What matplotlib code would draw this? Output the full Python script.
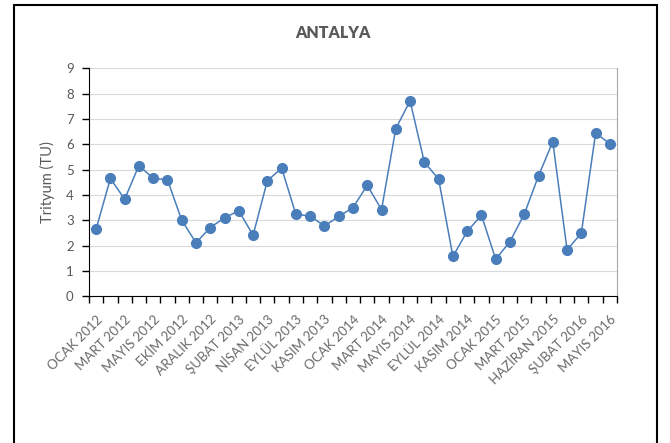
import matplotlib.pyplot as plt
from matplotlib.patches import Rectangle

plt.rcParams['font.family'] = ['Lato', 'DejaVu Sans']

# categories (only every other one is labelled on the chart)
months = ['OCAK 2012', 'ŞUBAT 2012', 'MART 2012', 'NİSAN 2012', 'MAYIS 2012', 'HAZİRAN 2012',
          'EKİM 2012', 'KASIM 2012', 'ARALIK 2012', 'OCAK 2013', 'ŞUBAT 2013', 'MART 2013',
          'NİSAN 2013', 'MAYIS 2013', 'EYLÜL 2013', 'EKİM 2013', 'KASIM 2013', 'ARALIK 2013',
          'OCAK 2014', 'ŞUBAT 2014', 'MART 2014', 'NİSAN 2014', 'MAYIS 2014', 'HAZİRAN 2014',
          'EYLÜL 2014', 'EKİM 2014', 'KASIM 2014', 'ARALIK 2014', 'OCAK 2015', 'ŞUBAT 2015',
          'MART 2015', 'NİSAN 2015', 'HAZİRAN 2015', 'ARALIK 2015', 'ŞUBAT 2016', 'NİSAN 2016',
          'MAYIS 2016']
tritium = [2.66, 4.66, 3.84, 5.17, 4.66, 4.61, 3.01, 2.12, 2.72, 3.11, 3.38, 2.42,
           4.57, 5.07, 3.24, 3.18, 2.78, 3.16, 3.51, 4.39, 3.43, 6.63, 7.72, 5.30,
           4.64, 1.58, 2.57, 3.21, 1.47, 2.17, 3.25, 4.76, 6.11, 1.84, 2.50, 6.45, 6.03]

gray = '#595959'
blue = '#4A7EBB'

fig = plt.figure(figsize=(6.7, 4.43), dpi=100)
ax = fig.add_axes([0.1328, 0.3307, 0.7881, 0.5147])

x = list(range(len(tritium)))
ax.plot(x, tritium, color=blue, linewidth=1.1, marker='o', markersize=7, zorder=3)

ax.set_xlim(-0.5, len(tritium) - 0.5)
ax.set_ylim(0, 9)
ax.set_yticks(range(0, 10))
ax.grid(axis='y', color='#d9d9d9', linewidth=0.8)
ax.set_axisbelow(True)

# Excel-style ticks between categories, labels on every second category
ax.set_xticks([i - 0.5 for i in range(len(tritium) + 1)])
ax.set_xticklabels([])
ax.tick_params(axis='x', which='major', length=5, width=1, color='black', direction='out')
ax.set_xticks(x[::2], minor=True)
ax.set_xticklabels(months[::2], minor=True, rotation=45, ha='right',
                   rotation_mode='anchor', color='#6a6a6a', fontsize=9.5)
ax.tick_params(axis='x', which='minor', length=0, pad=12)
ax.tick_params(axis='y', length=5, width=1, color='black', labelcolor=gray, labelsize=9.5, pad=6)

ax.spines['top'].set_visible(False)
ax.spines['right'].set_color('#a6a6a6')
ax.spines['left'].set_color('black')
ax.spines['bottom'].set_color('black')

ax.set_ylabel('Trityum (TU)', color=gray, fontsize=10.5, labelpad=8)
fig.text(0.497, 0.925, 'ANTALYA', ha='center', va='center', fontsize=11.5,
         fontweight='heavy', color=gray)

# chart border
fig.patches.append(Rectangle((14 / 670, -0.05), (657 - 14) / 670, 1.05 - 5 / 443,
                             transform=fig.transFigure, fill=False,
                             edgecolor='black', linewidth=1.5))

fig.savefig('out.png', dpi=100)
